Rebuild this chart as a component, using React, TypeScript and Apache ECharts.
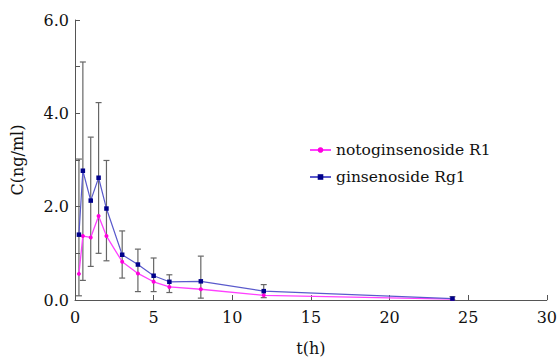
import React, { useEffect, useRef } from "react";
import * as echarts from "echarts";

const times = [0.25, 0.5, 1, 1.5, 2, 3, 4, 5, 6, 8, 12, 24];
const r1Values = [0.56, 1.37, 1.34, 1.8, 1.37, 0.82, 0.57, 0.39, 0.28, 0.23, 0.1, 0.02];
const r1SD = [0.47, 0.95, 0.62, 0.8, 0.53, 0.35, 0.39, 0.21, 0.12, 0.19, 0.05, 0.02];
const rg1Values = [1.4, 2.77, 2.13, 2.62, 1.96, 0.97, 0.76, 0.52, 0.39, 0.4, 0.19, 0.03];
const rg1SD = [1.62, 2.33, 1.36, 1.61, 1.03, 0.51, 0.33, 0.38, 0.15, 0.54, 0.14, 0.04];
const seriesNames = ["notoginsenoside R1", "ginsenoside Rg1"];
const yTickLabels = ["0.0", "2.0", "4.0", "6.0"];

const FONT = "DejaVu Serif";

export default function App() {
  const ref = useRef<HTMLDivElement>(null);
  useEffect(() => {
    if (!ref.current) return;
    const chart = echarts.init(ref.current, undefined, { renderer: "svg" });
    const errData = times.map((t, i) => [
      t,
      Math.max(0, r1Values[i] - r1SD[i]),
      rg1Values[i] + rg1SD[i],
    ]);
    const txt = { fontFamily: FONT, fontSize: 16, color: "#111", fontWeight: "normal" };
    chart.setOption({
      animation: false,
      backgroundColor: "#fff",
      textStyle: { fontFamily: FONT },
      grid: { left: 75, right: 11, top: 20, bottom: 53, containLabel: false },
      legend: {
        orient: "vertical",
        left: 304,
        top: 137,
        itemWidth: 21,
        itemHeight: 7,
        itemGap: 11,
        data: seriesNames,
        textStyle: { ...txt, fontSize: 15.5 },
      },
      xAxis: {
        type: "value",
        min: 0,
        max: 30,
        interval: 5,
        name: "t(h)",
        nameLocation: "middle",
        nameGap: 40,
        nameTextStyle: txt,
        axisLine: { lineStyle: { color: "#555", width: 1 } },
        axisTick: { inside: true, length: 5, lineStyle: { color: "#555" } },
        axisLabel: { ...txt, margin: 9 },
        splitLine: { show: false },
      },
      yAxis: {
        type: "value",
        min: 0,
        max: 6,
        interval: 1,
        name: "C(ng/ml)",
        nameLocation: "middle",
        nameGap: 50,
        nameTextStyle: txt,
        axisLine: { show: true, lineStyle: { color: "#555", width: 1 } },
        axisTick: { show: true, inside: true, length: 5, lineStyle: { color: "#555" } },
        axisLabel: {
          ...txt,
          margin: 6,
          formatter: (v: number) => (v % 2 === 0 ? yTickLabels[v / 2] : ""),
        },
        splitLine: { show: false },
      },
      series: [
        {
          type: "custom",
          name: "err",
          z: 1,
          silent: true,
          data: errData,
          encode: { x: 0, y: [1, 2] },
          renderItem: (params: any, api: any) => {
            const t = api.value(0);
            const lo = api.coord([t, api.value(1)]);
            const hi = api.coord([t, api.value(2)]);
            const w = 3;
            const style = { stroke: "#666", lineWidth: 1.2 };
            return {
              type: "group",
              children: [
                { type: "line", shape: { x1: lo[0], y1: lo[1], x2: hi[0], y2: hi[1] }, style },
                { type: "line", shape: { x1: lo[0] - w, y1: lo[1], x2: lo[0] + w, y2: lo[1] }, style },
                { type: "line", shape: { x1: hi[0] - w, y1: hi[1], x2: hi[0] + w, y2: hi[1] }, style },
              ],
            };
          },
        },
        {
          type: "line",
          name: seriesNames[0],
          z: 3,
          data: times.map((t, i) => [t, r1Values[i]]),
          symbol: "circle",
          symbolSize: 4,
          lineStyle: { color: "#ff40ff", width: 1.3 },
          itemStyle: { color: "#ff00dd" },
        },
        {
          type: "line",
          name: seriesNames[1],
          z: 4,
          data: times.map((t, i) => [t, rg1Values[i]]),
          symbol: "rect",
          symbolSize: 4.5,
          lineStyle: { color: "#5a5acc", width: 1.2 },
          itemStyle: { color: "#00008b" },
        },
      ],
    });
    return () => chart.dispose();
  }, []);
  return <div ref={ref} style={{ width: 560, height: 361, position: "absolute", left: 0, top: 0 }} />;
}
